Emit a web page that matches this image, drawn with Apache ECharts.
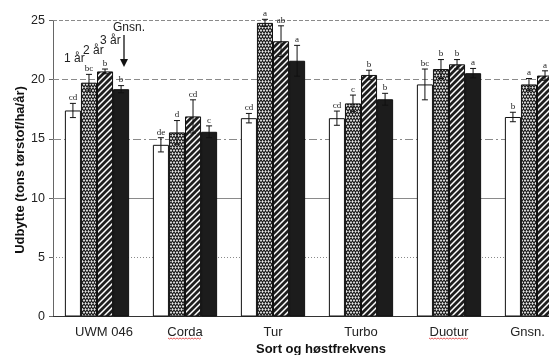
<!DOCTYPE html>
<html><head><meta charset="utf-8">
<script src="https://cdn.jsdelivr.net/npm/echarts@6/dist/echarts.min.js"></script>
<style>html,body{margin:0;padding:0;background:#fff}#c{width:549px;height:355px}</style>
</head><body><div id="c"></div>
<script>
// ---- data ----
const categories = ['UWM 046', 'Corda', 'Tur', 'Turbo', 'Duotur', 'Gnsn.'];
const seriesNames = ['1 år', '2 år', '3 år', 'Gnsn.'];
const yr1 = [17.4, 14.5, 16.75, 16.75, 19.6, 16.85];
const yr2 = [19.75, 15.55, 24.8, 18.0, 20.9, 19.6];
const yr3 = [20.7, 16.9, 23.25, 20.4, 21.3, 20.35];
const avg = [19.2, 15.6, 21.6, 18.35, 20.55, 19.3];
const err1 = [0.6, 0.6, 0.4, 0.6, 1.3, 0.4];
const err2 = [0.7, 1.0, 0.3, 0.7, 0.8, 0.5];
const err3 = [0.2, 1.4, 1.3, 0.4, 0.4, 0.4];
const err4 = [0.3, 0.5, 1.3, 0.5, 0.4, 0.4];
const let1 = ['cd', 'de', 'cd', 'cd', 'bc', 'b'];
const let2 = ['bc', 'd', 'a', 'c', 'b', 'a'];
const let3 = ['b', 'cd', 'ab', 'b', 'b', 'a'];
const let4 = ['b', 'c', 'a', 'b', 'a', 'a'];
const yTicks = [0, 5, 10, 15, 20, 25];
const yTitle = 'Udbytte (tons tørstof/ha/år)';
const xTitle = 'Sort og høstfrekvens';

const values = [yr1, yr2, yr3, avg];
const errs = [err1, err2, err3, err4];
const letters = [let1, let2, let3, let4];

// ---- patterns ----
function zigzag() {
  const c = document.createElement('canvas'); c.width = 6; c.height = 6;
  const g = c.getContext('2d');
  g.fillStyle = '#e8e8e8'; g.fillRect(0, 0, 6, 6);
  g.strokeStyle = '#1a1a1a'; g.lineWidth = 1.2;
  g.beginPath();
  for (let y of [-6, 0, 6]) {
    g.moveTo(-1.5, y + 1); g.lineTo(0, y + 3); g.lineTo(1.5, y + 1); g.lineTo(3, y + 3); g.lineTo(4.5, y + 1); g.lineTo(6, y + 3); g.lineTo(7.5, y + 1);
    g.moveTo(-1.5, y + 6); g.lineTo(0, y + 4); g.lineTo(1.5, y + 6); g.lineTo(3, y + 4); g.lineTo(4.5, y + 6); g.lineTo(6, y + 4); g.lineTo(7.5, y + 6);
  }
  g.stroke();
  return c;
}
function hatch() {
  const c = document.createElement('canvas'); c.width = 6; c.height = 6;
  const g = c.getContext('2d');
  g.fillStyle = '#1e1e1e'; g.fillRect(0, 0, 6, 6);
  g.strokeStyle = '#fff'; g.lineWidth = 1.5;
  g.beginPath();
  g.moveTo(-3, 3); g.lineTo(3, -3);
  g.moveTo(0, 6); g.lineTo(6, 0);
  g.moveTo(3, 9); g.lineTo(9, 3);
  g.stroke();
  return c;
}
const fills = ['#ffffff', { image: zigzag(), repeat: 'repeat' }, { image: hatch(), repeat: 'repeat' }, '#1c1c1c'];

const gapPct = 0.27;
const font = '"Liberation Sans", Arial, sans-serif';
const gridStyles = { 5: [1, 2], 10: 'solid', 15: [8, 3, 2, 3], 20: [6, 3], 25: [4, 2] };
const labelPad = { 'UWM 046': [0, 0, 0, 14], 'Gnsn.': [0, 19, 0, 0] };

const series = [];
values.forEach((vals, s) => {
  const bar = {
    type: 'bar', name: seriesNames[s], data: vals,
    barGap: '0%', barCategoryGap: (gapPct * 100) + '%',
    itemStyle: { color: fills[s], borderColor: '#111', borderWidth: 1 },
    z: 2
  };
  if (s === 0) {
    bar.markLine = {
      silent: true, symbol: 'none', z: 1, label: { show: false },
      data: yTicks.slice(1).map(v => ({ yAxis: v, lineStyle: { color: '#8a8a8a', width: 1, type: gridStyles[v] } }))
    };
  }
  series.push(bar);
});
values.forEach((vals, s) => {
  series.push({
    type: 'custom', z: 3, silent: true,
    data: vals.map((v, i) => [i, v, errs[s][i]]),
    renderItem(params, api) {
      const i = api.value(0), v = api.value(1), e = api.value(2);
      const band = api.size([1, 0])[0];
      const bw = band * (1 - gapPct) / 4;
      const cx = api.coord([i, v])[0] + (s - 1.5) * bw;
      const yt = api.coord([i, v + e])[1];
      const yb = api.coord([i, v - e])[1];
      const cap = 3;
      const st = { stroke: '#111', lineWidth: 1 };
      return {
        type: 'group', children: [
          { type: 'line', shape: { x1: cx, y1: yt, x2: cx, y2: yb }, style: st },
          { type: 'line', shape: { x1: cx - cap, y1: yt, x2: cx + cap, y2: yt }, style: st },
          { type: 'line', shape: { x1: cx - cap, y1: yb, x2: cx + cap, y2: yb }, style: st },
          { type: 'text', x: cx, y: yt - 1, style: { text: letters[s][params.dataIndex], fill: '#222', font: '9px "Liberation Serif", serif', align: 'center', verticalAlign: 'bottom' } }
        ]
      };
    }
  });
});

function squiggle(x0, x1, y) {
  const pts = [];
  for (let x = x0, k = 0; x <= x1; x += 1.5, k++) pts.push([x, y + (k % 2 ? 1 : 0)]);
  return { type: 'polyline', shape: { points: pts }, style: { stroke: '#e03030', lineWidth: 0.8, fill: null } };
}

const chart = echarts.init(document.getElementById('c'), null, { renderer: 'canvas' });
chart.setOption({
  animation: false,
  backgroundColor: '#fff',
  grid: { left: 53, top: 20.5, height: 296, width: 528, containLabel: false, outerBoundsMode: 'none' },
  xAxis: {
    type: 'category',
    data: categories.map(c => labelPad[c] ? { value: c, textStyle: { padding: labelPad[c] } } : c),
    name: xTitle, nameLocation: 'middle', nameGap: 24,
    nameTextStyle: { fontFamily: font, fontSize: 13, fontWeight: 'bold', color: '#111', padding: [0, 0, 0, 8] },
    axisLine: { lineStyle: { color: '#333', width: 1 } },
    axisTick: { show: false },
    axisLabel: { fontFamily: font, fontSize: 13, color: '#222', margin: 9 }
  },
  yAxis: {
    type: 'value', min: 0, max: 25, interval: 5,
    axisLine: { show: true, lineStyle: { color: '#666', width: 1 } },
    axisTick: { show: true, length: 4, lineStyle: { color: '#666' } },
    splitLine: { show: false },
    axisLabel: { fontFamily: font, fontSize: 12.5, color: '#222', margin: 8 }
  },
  graphic: [
    { type: 'text', x: 20, y: 170, rotation: Math.PI / 2, style: { text: yTitle, font: 'bold 13px ' + font, fill: '#111', align: 'center', verticalAlign: 'middle' } },
    { type: 'text', left: 64, top: 53, style: { text: '1 år', font: '12px ' + font, fill: '#222' } },
    { type: 'text', left: 83, top: 45, style: { text: '2 år', font: '12px ' + font, fill: '#222' } },
    { type: 'text', left: 100, top: 35, style: { text: '3 år', font: '12px ' + font, fill: '#222' } },
    { type: 'text', left: 113, top: 22, style: { text: 'Gnsn.', font: '12px ' + font, fill: '#222' } },
    { type: 'line', shape: { x1: 124, y1: 35, x2: 124, y2: 60 }, style: { stroke: '#111', lineWidth: 1.3 } },
    { type: 'polygon', shape: { points: [[120, 59], [128, 59], [124, 67]] }, style: { fill: '#111' } },
    squiggle(168, 202, 338),
    squiggle(429, 468, 338)
  ],
  series
});
</script>
</body></html>
